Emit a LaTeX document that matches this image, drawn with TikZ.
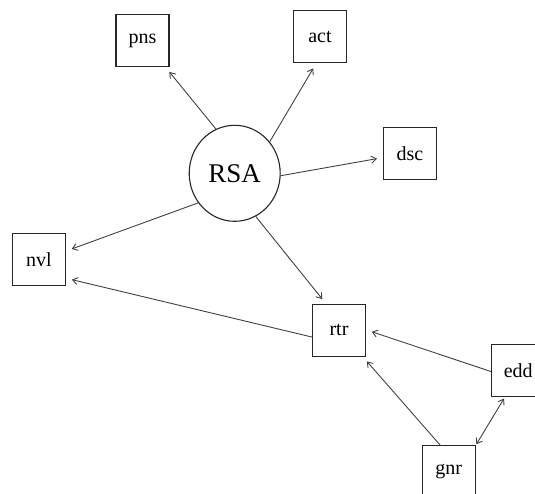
\documentclass[tikz,border=0pt]{standalone}
\usepackage{fontspec}
\setmainfont{Liberation Serif}
\newfontfamily\labelfont{Liberation Serif}
\usetikzlibrary{arrows.meta,shapes.geometric}

\begin{document}
\begin{tikzpicture}
[x=1pt,y=-1pt,
  lineDecorate/.style={-{Straight Barb[length=5pt,width=7pt]},line width=0.9pt,draw=black!75,shorten >=6pt},%
  nodeDecorate/.style={shape=rectangle,minimum width=53pt,minimum height=52pt,inner sep=0pt,draw=black!85,line width=1.1pt,font=\labelfont\fontsize{20}{24}\selectfont},%
  centerDecorate/.style={shape=ellipse,minimum width=91pt,minimum height=96pt,inner sep=0pt,draw=black!85,line width=1.1pt,font=\labelfont\fontsize{27}{32}\selectfont}]
\useasboundingbox (0,0) rectangle (535,494);
%% central node
\node (RSA) at (234.7,173.3) [centerDecorate] {RSA};
%% boxes
\foreach \nodename/\x/\y in {
  pns/142.5/40.7, act/320/36.7, dsc/410/153.3, nvl/39/259.3,
  rtr/339/330.3, edd/518.3/370.7, gnr/448.8/471.7}
{
  \node (\nodename) at (\x,\y) [nodeDecorate] {\nodename};
}
%% edges
\path
\foreach \startnode/\sa/\endnode/\ea in {
  RSA/113.5/pns/-49, RSA/42.5/act/-98.6, RSA/-3.4/dsc/-171,
  RSA/-141.7/nvl/17.5, RSA/-64.8/rtr/116.7, rtr/-166.8/nvl/-35.7,
  edd/-178/rtr/1.3, gnr/108/rtr/-48.5}
{
  (\startnode.\sa) edge[lineDecorate] (\endnode.\ea)
};
\path (gnr.north east) edge[lineDecorate,{Straight Barb[length=5pt,width=7pt]}-{Straight Barb[length=5pt,width=7pt]},shorten <=1pt,shorten >=1.5pt] (edd.-117);
\end{tikzpicture}
\end{document}
